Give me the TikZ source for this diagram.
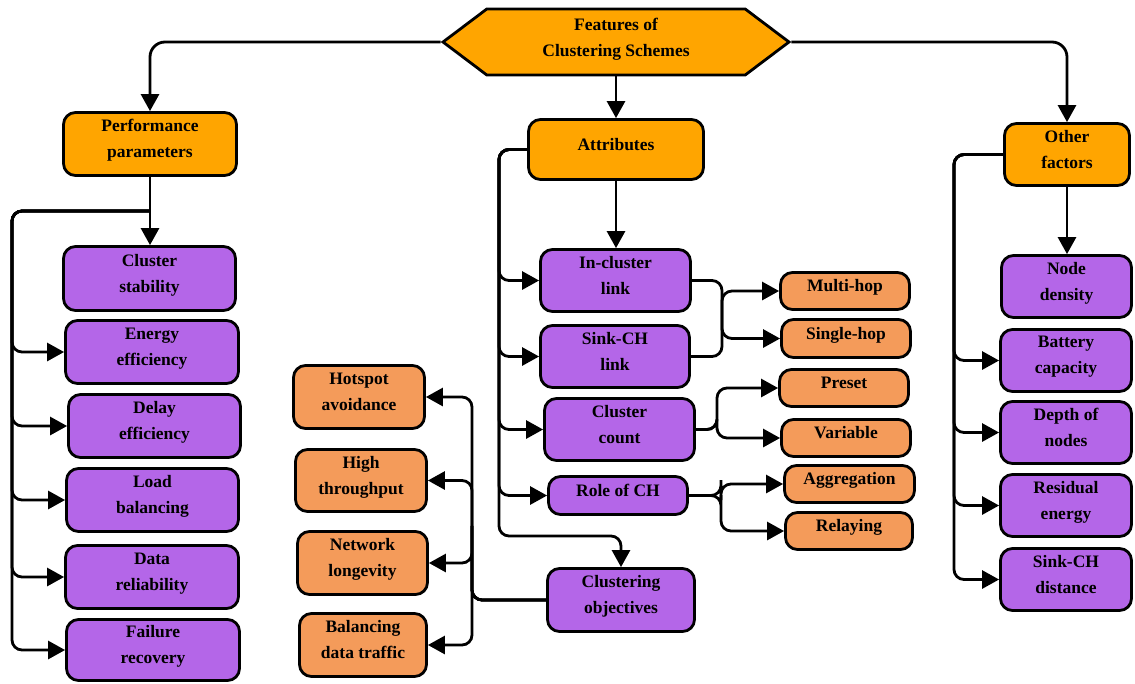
\documentclass[tikz,border=0pt]{standalone}
\usepackage{fontspec}
\setmainfont{Liberation Serif}
\usetikzlibrary{arrows.meta,shapes.symbols}
\definecolor{hdr}{HTML}{FFA500}
\definecolor{pur}{HTML}{B466E8}
\definecolor{lor}{HTML}{F49B5A}
\tikzset{
  base/.style={draw=black, line width=2.8pt, rounded corners=12pt, align=center, inner sep=2pt,
    text depth=11pt, font=\bfseries\fontsize{17.5}{26}\selectfont},
  hbox/.style={base, fill=hdr},
  pbox/.style={base, fill=pur},
  obox/.style={base, fill=lor},
  conn/.style={draw=black, line width=2.8pt, rounded corners=10pt, -{Triangle[length=17pt,width=18pt]}},
}
\begin{document}
\begin{tikzpicture}[x=1pt,y=-1pt]
\useasboundingbox (0,0) rectangle (1135,683);
% header
\node[draw=black, line width=2.8pt, fill=hdr, signal, signal to=west and east, signal pointer angle=74,
  minimum width=346, minimum height=66, inner sep=2pt, align=center, text depth=9pt,
  font=\bfseries\fontsize{17.5}{26}\selectfont] (hex) at (616,42) {Features of\\Clustering Schemes};
\node[hbox, minimum width=173, minimum height=63] (pp) at (150,144) {Performance\\parameters};
\node[hbox, minimum width=175, minimum height=60] (attr) at (616,149.5) {Attributes};
\node[hbox, minimum width=125, minimum height=62] (of) at (1067,154.5) {Other\\factors};
% left column
\node[pbox, minimum width=172, minimum height=64] (cs) at (149.5,278.5) {Cluster\\stability};
\node[pbox, minimum width=173, minimum height=63] (ee) at (152,352) {Energy\\efficiency};
\node[pbox, minimum width=172, minimum height=63] (de) at (154.5,426) {Delay\\efficiency};
\node[pbox, minimum width=172, minimum height=63] (lb) at (152.5,500) {Load\\balancing};
\node[pbox, minimum width=173, minimum height=63] (dr) at (152,577) {Data\\reliability};
\node[pbox, minimum width=173, minimum height=61] (fr) at (153,650) {Failure\\recovery};
% middle column
\node[pbox, minimum width=150, minimum height=62] (ic) at (615.5,280.5) {In-cluster\\link};
\node[pbox, minimum width=149, minimum height=62] (sc) at (615,356.5) {Sink-CH\\link};
\node[pbox, minimum width=150, minimum height=62] (cc) at (619.5,429.5) {Cluster\\count};
\node[pbox, minimum width=139, minimum height=38] (rch) at (618,495.5) {Role of CH};
\node[pbox, minimum width=147, minimum height=63] (co) at (621,600) {Clustering\\objectives};
% right of middle
\node[obox, minimum width=129, minimum height=37] (mh) at (845,291) {Multi-hop};
\node[obox, minimum width=129, minimum height=38] (sh) at (846,338.5) {Single-hop};
\node[obox, minimum width=129, minimum height=37] (pre) at (844,388) {Preset};
\node[obox, minimum width=129, minimum height=37] (var) at (846,438) {Variable};
\node[obox, minimum width=130, minimum height=37] (agg) at (849.5,484) {Aggregation};
\node[obox, minimum width=127, minimum height=37] (rel) at (849,531) {Relaying};
% left orange
\node[obox, minimum width=131, minimum height=63] (ha) at (359,397) {Hotspot\\avoidance};
\node[obox, minimum width=131, minimum height=62] (ht) at (361,480.5) {High\\throughput};
\node[obox, minimum width=130, minimum height=63] (nl) at (362.5,563) {Network\\longevity};
\node[obox, minimum width=127, minimum height=63] (bdt) at (363,645) {Balancing\\data traffic};
% right column
\node[pbox, minimum width=130, minimum height=62] (nd) at (1066.5,286.5) {Node\\density};
\node[pbox, minimum width=131, minimum height=62] (bc) at (1066,360.5) {Battery\\capacity};
\node[pbox, minimum width=131, minimum height=62] (dn) at (1066,432.5) {Depth of\\nodes};
\node[pbox, minimum width=131, minimum height=62] (re) at (1066,505.5) {Residual\\energy};
\node[pbox, minimum width=131, minimum height=62] (sd) at (1066,579.5) {Sink-CH\\distance};
% top connectors
\draw[conn, rounded corners=15pt] (hex.west) -| (pp.north);
\draw[conn, rounded corners=15pt] (hex.east) -| (of.north);
\draw[conn] (hex.south) -- (attr.north);
\draw[conn] (pp.south) -- (pp.south |- cs.north);
\draw[conn] (attr.south) -- (attr.south |- ic.north);
\draw[conn] (of.south) -- (of.south |- nd.north);
% performance bus
\coordinate (ppj) at (150,211);
\foreach \t in {ee,de,lb,dr,fr}
  \draw[conn] (ppj) -| (12,300) |- (\t.west);
% attributes bus
\foreach \t in {ic,sc,cc,rch}
  \draw[conn] (attr.west) -| (499,230) |- (\t.west);
\draw[conn] (attr.west) -| (499,536) -| (co.north);
% clustering objectives
\foreach \t in {ha,ht,nl,bdt}
  \draw[conn] (co.west) -| (472,520) |- (\t.east);
% link types
\draw[conn] (ic.east) -| (722,320) |- (sh.west);
\draw[conn] (sc.east) -| (722,310) |- (mh.west);
\draw[conn] (cc.east) -| (717,410) |- (pre.west);
\draw[conn] (cc.east) -| (717,420) |- (var.west);
\draw[conn] (rch.east) -| (721,490) |- (agg.west);
\draw[conn] (rch.east) -| (721,505) |- (rel.west);
% other factors bus
\foreach \t in {bc,dn,re,sd}
  \draw[conn] (of.west) -| (954,300) |- (\t.west);
\end{tikzpicture}
\end{document}
